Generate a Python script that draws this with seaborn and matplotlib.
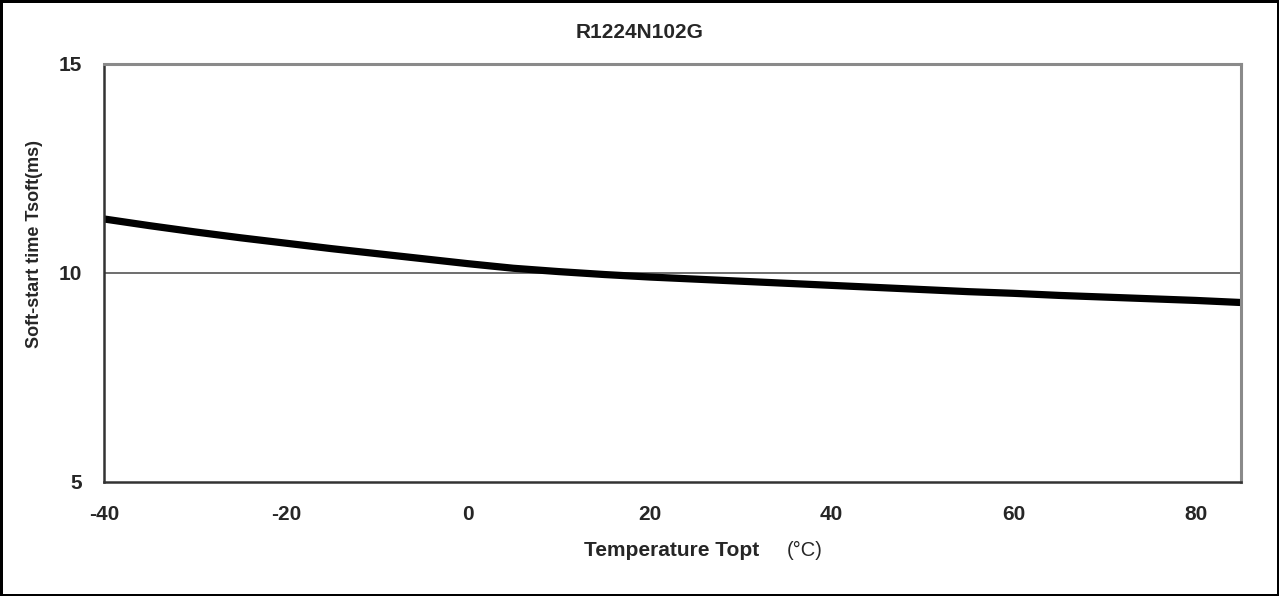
import pandas as pd
import matplotlib.pyplot as plt
import seaborn as sns

# values (every 5 degC)
temperature = [-40, -35, -30, -25, -20, -15, -10, -5, 0, 5, 10, 15, 20,
               25, 30, 35, 40, 45, 50, 55, 60, 65, 70, 75, 80, 85]
soft_start_ms = [11.29, 11.13, 10.98, 10.84, 10.71, 10.58, 10.46, 10.34, 10.22, 10.11, 10.03, 9.96, 9.90,
                 9.85, 9.80, 9.75, 9.70, 9.65, 9.60, 9.55, 9.51, 9.46, 9.42, 9.38, 9.34, 9.29]
x_ticks = [-40, -20, 0, 20, 40, 60, 80]
y_ticks = [5, 10, 15]

df = pd.DataFrame({'Temperature': temperature, 'Tsoft': soft_start_ms})

sns.set_style('white')
plt.rcParams['font.family'] = ['Liberation Sans', 'DejaVu Sans']
plt.rcParams['axes.unicode_minus'] = False

fig = plt.figure(figsize=(12.79, 5.96), dpi=100)
fig.patch.set_edgecolor('black')
fig.patch.set_linewidth(2.5)
ax = fig.add_axes([104 / 1279, 1 - 481.7 / 596, (1241 - 104) / 1279, (481.7 - 64) / 596])

sns.lineplot(data=df, x='Temperature', y='Tsoft', ax=ax, color='black', linewidth=5.2)
for line in ax.lines:
    line.set_solid_joinstyle('round')

ax.set_xlim(-40, 85)
ax.set_ylim(5, 15)
ax.set_xticks(x_ticks)
ax.set_yticks(y_ticks)
ax.set_xlabel('')
ax.set_ylabel('')

# only the 10 ms gridline shows
ax.axhline(10, color='#555555', linewidth=1.2, zorder=1)

for side in ['left', 'bottom']:
    ax.spines[side].set_color('#333333')
    ax.spines[side].set_linewidth(1.8)
for side in ['top', 'right']:
    ax.spines[side].set_color('#8a8a8a')
    ax.spines[side].set_linewidth(2.2)

ax.tick_params(axis='x', direction='in', length=5, width=1.2, color='#404040',
               pad=17, labelsize=15)
ax.tick_params(axis='y', length=0, pad=16, labelsize=15)
for lbl in ax.get_xticklabels() + ax.get_yticklabels():
    lbl.set_fontweight('bold')

fig.text(640 / 1279, 1 - 32.7 / 596, 'R1224N102G', ha='center', va='center',
         fontsize=15, fontweight='bold')
fig.text(35 / 1279, 1 - 244 / 596, 'Soft-start time Tsoft(ms)', ha='center', va='center',
         rotation=90, fontsize=13, fontweight='bold')
fig.text(584 / 1279, 1 - 550 / 596, 'Temperature Topt', ha='left', va='center',
         fontsize=15, fontweight='bold')
fig.text(787 / 1279, 1 - 550 / 596, '(°C)', ha='left', va='center', fontsize=14.5)

fig.savefig('out.png', dpi=100)
